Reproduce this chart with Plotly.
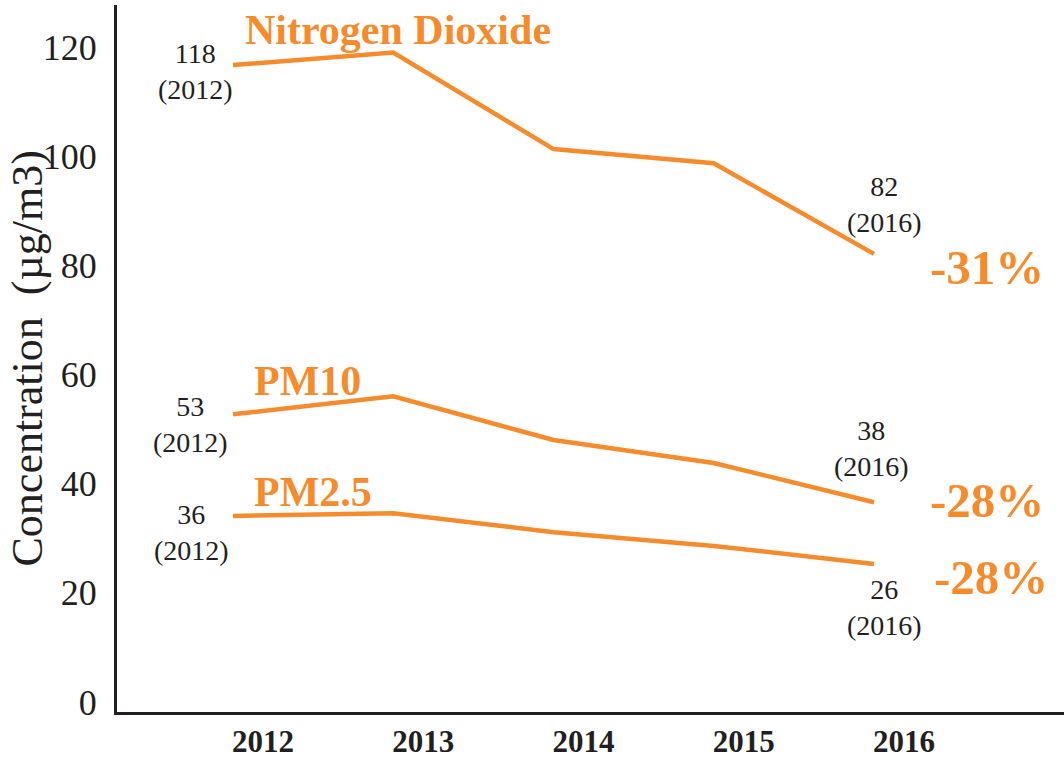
import plotly.graph_objects as go

years = [2012, 2013, 2014, 2015, 2016]
no2 = [116.7, 119.0, 101.3, 98.7, 82.1]
pm10 = [52.7, 56.0, 48.0, 43.8, 36.6]
pm25 = [34.1, 34.6, 31.1, 28.6, 25.3]
series_names = ["Nitrogen Dioxide", "PM10", "PM2.5"]
start_labels = [118, 53, 36]
end_labels = [82, 38, 26]
y_ticks = [0, 20, 40, 60, 80, 100, 120]

ORANGE = "#F58B2B"
INK = "#231F20"
FONT = "Liberation Serif, Times New Roman, serif"

series = [no2, pm10, pm25]
fig = go.Figure()
for name, vals in zip(series_names, series):
    fig.add_trace(go.Scatter(x=years, y=vals, mode="lines", name=name,
                             line=dict(color=ORANGE, width=4.5), showlegend=False,
                             hoverinfo="x+y"))

# per-series label offsets (pixels)
start_shift = [(-38, -6), (-43, -10), (-42, -17)]
end_shift = [(11, 49), (-2, 54), (11, -44)]
pct_shift = [(113, -14), (113, 2), (117, -14)]
name_shift = [(10, 35), (19, 33), (19, 24)]

ann = []
for i, vals in enumerate(series):
    ann.append(dict(x=years[0], y=vals[0], xref="x", yref="y", showarrow=False,
                    text=f"{start_labels[i]}<br>({years[0]})",
                    xshift=start_shift[i][0], yshift=start_shift[i][1],
                    font=dict(family=FONT, size=28, color=INK), align="center"))
    ann.append(dict(x=years[-1], y=vals[-1], xref="x", yref="y", showarrow=False,
                    text=f"{end_labels[i]}<br>({years[-1]})",
                    xshift=end_shift[i][0], yshift=end_shift[i][1],
                    font=dict(family=FONT, size=28, color=INK), align="center"))
    pct = round((end_labels[i] - start_labels[i]) / start_labels[i] * 100)
    ann.append(dict(x=years[-1], y=vals[-1], xref="x", yref="y", showarrow=False,
                    text=f"<b>{pct}%</b>",
                    xshift=pct_shift[i][0], yshift=pct_shift[i][1],
                    font=dict(family=FONT, size=49, color=ORANGE)))
    ann.append(dict(x=years[0], y=vals[0], xref="x", yref="y", showarrow=False,
                    text=f"<b>{series_names[i]}</b>", xanchor="left",
                    xshift=name_shift[i][0], yshift=name_shift[i][1],
                    font=dict(family=FONT, size=42, color=ORANGE)))

ann.append(dict(x=0, y=0.5, xref="paper", yref="paper", showarrow=False,
                text="Concentration  (µg/m3)", textangle=-90,
                xanchor="center", yanchor="middle", xshift=-90,
                font=dict(family=FONT, size=44, color=INK)))

fig.update_layout(
    width=1064, height=758,
    margin=dict(l=117, r=0, t=5, b=46),
    paper_bgcolor="white", plot_bgcolor="white",
    annotations=ann,
    xaxis=dict(range=[2011.276, 2017.186], tickvals=years,
               ticktext=[f"<b>{y}</b>" for y in years],
               showgrid=False, zeroline=False, showline=True, linewidth=3,
               linecolor=INK, ticks="", ticklabelshift=30, ticklabelstandoff=0,
               automargin=False,
               tickfont=dict(family=FONT, size=31, color=INK)),
    yaxis=dict(range=[-1.83, 127.7], tickvals=y_ticks,
               showgrid=False, zeroline=False, showline=True, linewidth=3,
               linecolor=INK, ticks="", ticklabelstandoff=10, automargin=False,
               tickfont=dict(family=FONT, size=36, color=INK)),
)

fig.write_html("out.html", config={"displayModeBar": False},
               post_script="document.body.style.margin='0';document.body.style.overflow='hidden';")
